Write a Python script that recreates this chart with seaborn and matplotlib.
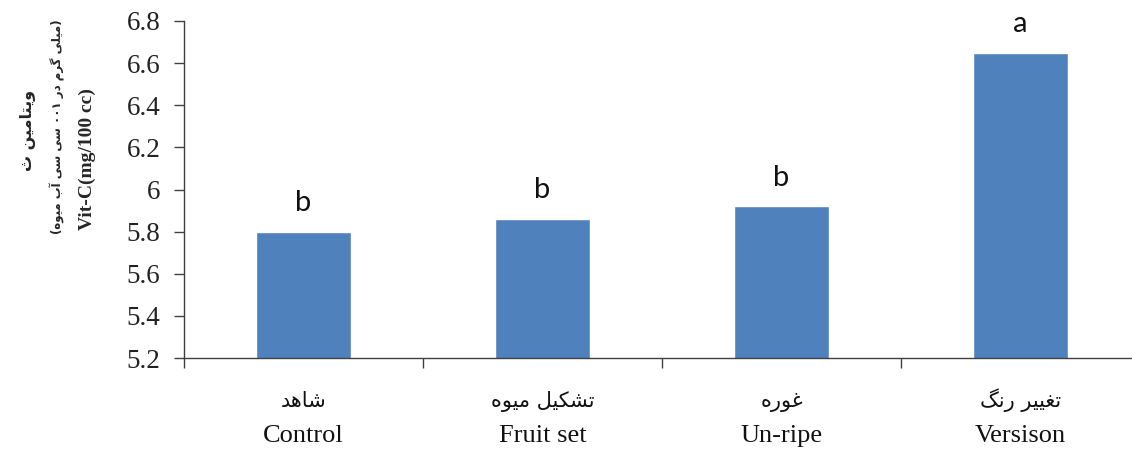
import matplotlib
matplotlib.use("Agg")
import matplotlib.pyplot as plt
import seaborn as sns
import pandas as pd
from matplotlib.ticker import FixedLocator

# ---------------- data ----------------
categories_en = ["Control", "Fruit set", "Un-ripe", "Versison"]
categories_fa = ["شاهد", "تشکیل میوه", "غوره", "تغییر رنگ"]
vitc_values = [5.80, 5.86, 5.92, 6.65]
group_letters = ["b", "b", "b", "a"]
y_ticks = [5.2, 5.4, 5.6, 5.8, 6.0, 6.2, 6.4, 6.6, 6.8]
y_tick_labels = ["5.2", "5.4", "5.6", "5.8", "6", "6.2", "6.4", "6.6", "6.8"]
ylabel_fa_1 = "ویتامین ث"
ylabel_fa_2 = "(میلی گرم در ۱۰۰ سی سی آب میوه)"
ylabel_en = "Vit-C(mg/100 cc)"

# ------------- minimal Persian shaping (matplotlib has no RTL/shaping) -------------
FORMS = {
    "\u0627": ("\uFE8D", "\uFE8E", None, None),
    "\u0622": ("\uFE81", "\uFE82", None, None),
    "\u0628": ("\uFE8F", "\uFE90", "\uFE91", "\uFE92"),
    "\u062A": ("\uFE95", "\uFE96", "\uFE97", "\uFE98"),
    "\u062B": ("\uFE99", "\uFE9A", "\uFE9B", "\uFE9C"),
    "\u062F": ("\uFEA9", "\uFEAA", None, None),
    "\u0631": ("\uFEAD", "\uFEAE", None, None),
    "\u0633": ("\uFEB1", "\uFEB2", "\uFEB3", "\uFEB4"),
    "\u0634": ("\uFEB5", "\uFEB6", "\uFEB7", "\uFEB8"),
    "\u063A": ("\uFECD", "\uFECE", "\uFECF", "\uFED0"),
    "\u0644": ("\uFEDD", "\uFEDE", "\uFEDF", "\uFEE0"),
    "\u0645": ("\uFEE1", "\uFEE2", "\uFEE3", "\uFEE4"),
    "\u0646": ("\uFEE5", "\uFEE6", "\uFEE7", "\uFEE8"),
    "\u0647": ("\uFEE9", "\uFEEA", "\uFEEB", "\uFEEC"),
    "\u0648": ("\uFEED", "\uFEEE", None, None),
    "\u06CC": ("\uFBFC", "\uFBFD", "\uFBFE", "\uFBFF"),
    "\u06A9": ("\uFB8E", "\uFB8F", "\uFB90", "\uFB91"),
    "\u06AF": ("\uFB92", "\uFB93", "\uFB94", "\uFB95"),
}


def shape_fa(s):
    out = []
    n = len(s)
    for i, c in enumerate(s):
        if c not in FORMS:
            out.append(c)
            continue
        iso, fin, ini, med = FORMS[c]
        prev = s[i - 1] if i > 0 else ""
        nxt = s[i + 1] if i < n - 1 else ""
        jp = prev in FORMS and FORMS[prev][2] is not None
        jn = ini is not None and nxt in FORMS
        if jp and jn:
            out.append(med)
        elif jp:
            out.append(fin)
        elif jn:
            out.append(ini)
        else:
            out.append(iso)
    vis = "".join(out)[::-1]
    return vis.translate(str.maketrans("()", ")("))


# ---------------- plot ----------------
sns.set_theme(style="white")
plt.rcParams["font.family"] = ["Liberation Serif", "DejaVu Sans"]

df = pd.DataFrame({"stage": categories_en, "vitc": vitc_values})

W, H = 1132, 450
fig = plt.figure(figsize=(W / 100, H / 100), dpi=100)
ax = fig.add_axes([184 / W, 1 - 358 / H, 956 / W, 337 / H])

sns.barplot(data=df, x="stage", y="vitc", color="#4F81BD", saturation=1,
            width=0.4, ax=ax, errorbar=None)

ax.set_xlim(-0.5, 3.5)
ax.set_ylim(5.2, 6.8)
ax.set_yticks(y_ticks)
ax.set_yticklabels(y_tick_labels, fontsize=19.5, family="Liberation Serif")

# English category names as tick labels, near the bottom edge
ax.set_xticks(range(len(categories_en)))
ax.set_xticklabels(categories_en, fontsize=19, family="Liberation Serif")
ax.xaxis.set_minor_locator(FixedLocator([-0.5, 0.5, 1.5, 2.5, 3.5]))
ax.tick_params(axis="x", which="major", length=0, pad=48, labelcolor="#111111")
ax.tick_params(axis="x", which="minor", length=7, width=1, color="#404040",
               direction="out", bottom=True)
ax.tick_params(axis="y", which="major", length=7, width=1, color="#404040",
               direction="out", left=True, pad=10, labelcolor="#222222")

# Persian category names above the English ones
for i, fa in enumerate(categories_fa):
    ax.annotate(shape_fa(fa), xy=(i, 0), xycoords=("data", "axes fraction"),
                xytext=(0, -35), textcoords="offset points", ha="center", va="baseline",
                fontsize=15, family="DejaVu Sans", color="#111111", annotation_clip=False)

for sp in ["top", "right"]:
    ax.spines[sp].set_visible(False)
for sp in ["left", "bottom"]:
    ax.spines[sp].set_color("#404040")
    ax.spines[sp].set_linewidth(1)

ax.set_xlabel("")
ax.set_ylabel("")

for i, (v, letter) in enumerate(zip(vitc_values, group_letters)):
    ax.annotate(letter, (i, v), xytext=(0, 15), textcoords="offset points",
                ha="center", va="baseline", fontsize=21, family="Lato", color="#111111")

fig.text(28 / W, 1 - 130 / H, shape_fa(ylabel_fa_1), rotation=90, ha="center", va="center",
         fontsize=11.5, fontweight="bold", family="DejaVu Sans")
fig.text(57 / W, 1 - 127 / H, shape_fa(ylabel_fa_2), rotation=90, ha="center", va="center",
         fontsize=8.5, fontweight="bold", family="DejaVu Sans")
fig.text(87 / W, 1 - 159 / H, ylabel_en, rotation=90, ha="center", va="center",
         fontsize=14, fontweight="bold", family="Liberation Serif")

fig.savefig("out.png", dpi=100, facecolor="white")
